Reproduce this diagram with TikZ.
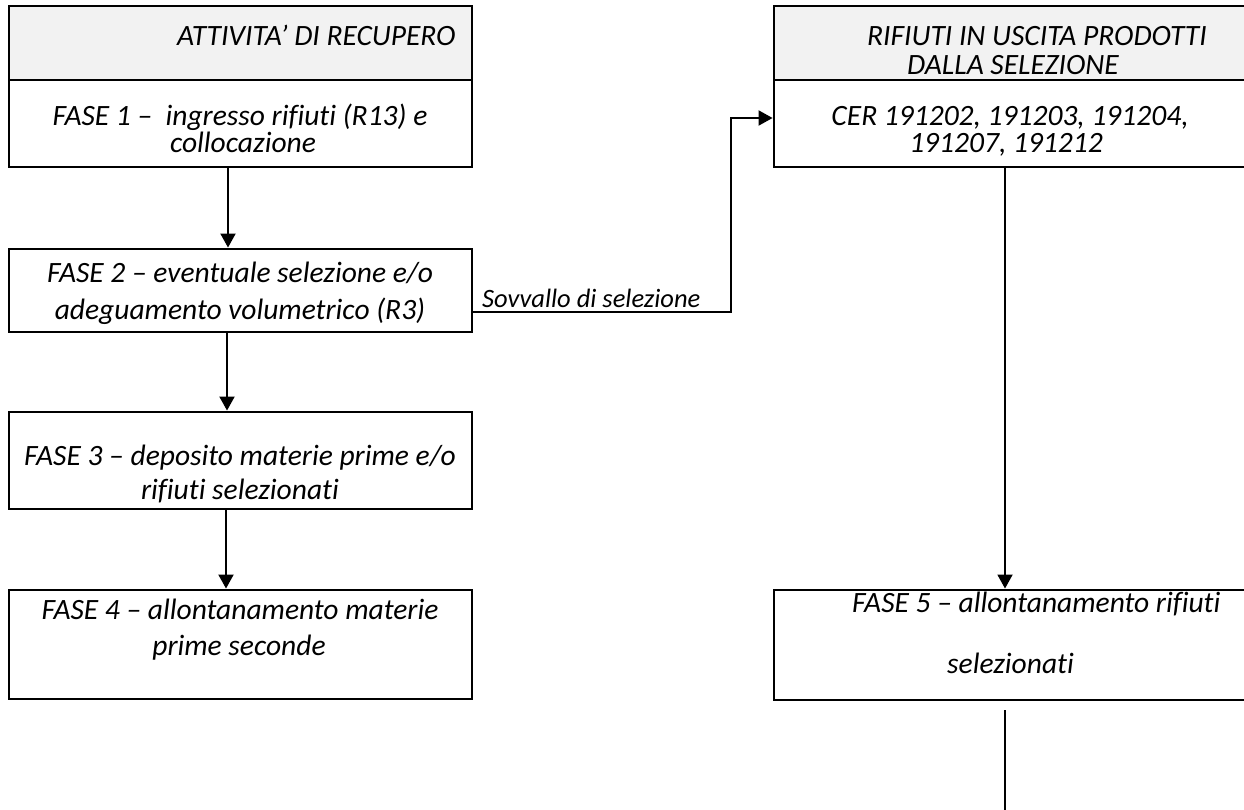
\documentclass[tikz,border=0pt]{standalone}
\usepackage{fontspec}
\setmainfont{Carlito}[Ligatures={NoCommon,NoContextual}]
\usetikzlibrary{arrows.meta}
\begin{document}
\begin{tikzpicture}[x=1pt,y=-1pt,
  box/.style={draw=black,line width=2.9pt,rectangle,inner sep=0pt,minimum width=#1},
  hdr/.style={box=#1,fill=hdrgray},
  txt/.style={inner sep=0pt,font=\fontsize{29.5}{26}\selectfont\itshape},
  lbl/.style={inner sep=0pt,font=\fontsize{26.5}{30}\selectfont\itshape},
  conn/.style={draw=black,line width=1.9pt},
  arr/.style={conn,-{Triangle[length=14pt,width=15pt]}}]
\definecolor{hdrgray}{HTML}{F2F2F2}
\useasboundingbox (0,0) rectangle (1244,810);
\clip (0,0) rectangle (1244,810);
\fill[white] (0,0) rectangle (1244,810);
% left column boxes
\node[hdr=463pt,minimum height=74pt] (hl) at (240.5,43) {};
\node[box=463pt,minimum height=87pt] (f1) at (240.5,123.5) {};
\node[box=463pt,minimum height=83pt] (f2) at (240.5,290.5) {};
\node[box=463pt,minimum height=97pt] (f3) at (240.5,460.5) {};
\node[box=463pt,minimum height=109pt] (f4) at (240.5,644.5) {};
% right column boxes
\node[hdr=486pt,minimum height=74pt] (hr) at (1017,43) {};
\node[box=486pt,minimum height=87pt] (cer) at (1017,123.5) {};
\node[box=486pt,minimum height=110pt] (f5) at (1017,645) {};
% texts
\node[txt,anchor=base west] (thl) at (177,46) {ATTIVITA’ DI RECUPERO};
\node[txt,anchor=base] (tf1a) at (240,126) {FASE 1 –\ \ ingresso rifiuti (R13) e};
\node[txt,anchor=base] (tf1b) at (243,153) {collocazione};
\node[txt,anchor=base] (tf2a) at (240,283) {FASE 2 – eventuale selezione e/o};
\node[txt,anchor=base] (tf2b) at (240,319) {adeguamento volumetrico (R3)};
\node[txt,anchor=base] (tf3a) at (240,465) {FASE 3 – deposito materie prime e/o};
\node[txt,anchor=base] (tf3b) at (240,499) {rifiuti selezionati};
\node[txt,anchor=base] (tf4a) at (240,619) {FASE 4 – allontanamento materie};
\node[txt,anchor=base] (tf4b) at (239,655) {prime seconde};
\node[txt,font=\fontsize{29.5}{29}\selectfont\itshape,anchor=base west,align=left] (thr) at (867,74.5) {RIFIUTI IN USCITA PRODOTTI\\\hspace*{40pt}DALLA SELEZIONE};
\node[txt,anchor=base] (tcer1) at (1010,126) {CER 191202, 191203, 191204,};
\node[txt,anchor=base] (tcer2) at (1006,153) {191207, 191212};
\node[txt,anchor=base west] (tf5a) at (852,612) {FASE 5 – allontanamento rifiuti};
\node[txt,anchor=base west] (tf5b) at (947,673) {selezionati};
\node[lbl,anchor=base west] (tsov) at (482,307) {Sovvallo di selezione};
% connector guides
\coordinate (x1) at (228,0);
\coordinate (x2) at (227,0);
\coordinate (x3) at (226,0);
\coordinate (xr) at (1005,0);
\coordinate (sv) at (731,312);
\coordinate (svtop) at (731,118);
\coordinate (r5a) at (1005,710);
\coordinate (r5b) at (1005,820);
% connectors
\draw[arr] (f1.south -| x1) -- (f2.north -| x1);
\draw[arr] (f2.south -| x2) -- (f3.north -| x2);
\draw[arr] (f3.south -| x3) -- (f4.north -| x3);
\draw[arr] (cer.south -| xr) -- (f5.north -| xr);
\draw[arr] (f2.east |- sv) -- (sv) -- (svtop) -- (cer.west |- svtop);
\draw[conn] (r5a) -- (r5b);
\end{tikzpicture}
\end{document}
